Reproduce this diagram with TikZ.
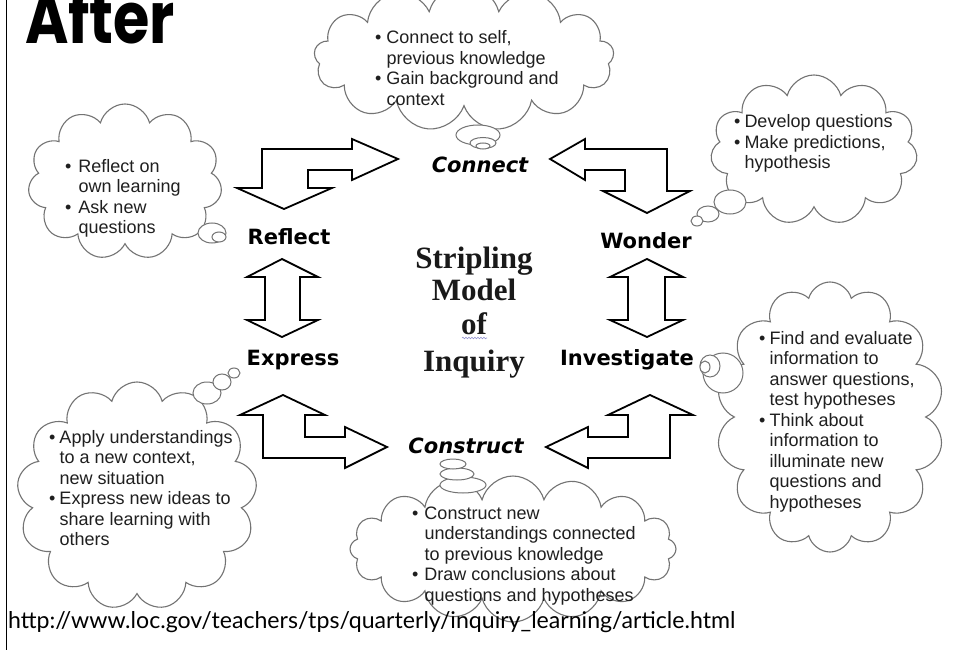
\documentclass[tikz,border=0pt]{standalone}
\usepackage{fontspec}
\setmainfont{Liberation Sans}
\newfontfamily\labelfont{DejaVu Sans}
\newfontfamily\centerfont{Liberation Serif}
\newfontfamily\urlfont{Lato}
\newfontfamily\titlefont{Poppins}
\usetikzlibrary{shapes.symbols,shapes.geometric,decorations.pathmorphing}
\begin{document}
\begin{tikzpicture}[x=1pt,y=-1pt,
  cloudbox/.style={cloud, cloud puffs=#1, cloud ignores aspect, draw=black!55, line width=1.1pt, fill=white, inner sep=0pt},
  bubble/.style={ellipse, draw=black!55, line width=1pt, fill=white, inner sep=0pt},
  blockarrow/.style={draw=black, line width=1.8pt, fill=white, line join=miter},
  steplabel/.style={font=\labelfont\bfseries\fontsize{21}{24}\selectfont, inner sep=0pt},
  steplabelit/.style={font=\labelfont\bfseries\itshape\fontsize{21}{24}\selectfont, inner sep=0pt},
  cloudtext/.style={anchor=base west, inner sep=0pt, font=\fontsize{18}{20.5}\selectfont, text=black!88},
  centertext/.style={anchor=base, inner sep=0pt, font=\centerfont\bfseries\fontsize{31}{34}\selectfont, text=black!90}
]
\useasboundingbox (0,0) rectangle (959,650);
\clip (0,0) rectangle (959,650);
\fill[white] (0,0) rectangle (959,650);

% left rule and title
\draw[line width=1.6pt] (6.5,0) -- (6.5,650);
\node[anchor=base west, inner sep=0pt] (title) at (25,44) {\resizebox{150pt}{56pt}{\titlefont\bfseries After}};

% clouds
\node[cloudbox=13, minimum width=300pt, minimum height=146pt] (cconnect) at (464,58) {};
\node[cloudbox=11, minimum width=207pt, minimum height=150pt] (cwonder) at (814,150) {};
\node[cloudbox=11, minimum width=194pt, minimum height=156pt] (creflect) at (125,182) {};
\node[cloudbox=13, minimum width=240pt, minimum height=228pt] (cexpress) at (137,496) {};
\node[cloudbox=14, minimum width=228pt, minimum height=270pt] (cinvest) at (830,417) {};
\node[cloudbox=16, minimum width=326pt, minimum height=146pt] (cconstruct) at (513,549) {};

% thought bubbles
\node[bubble, minimum width=44pt, minimum height=20pt] (bc1) at (478,135) {};
\node[bubble, minimum width=26pt, minimum height=11pt] (bc2) at (483,143) {};
\node[bubble, minimum width=14pt, minimum height=6pt] (bc3) at (483,146) {};

\node[bubble, minimum width=32pt, minimum height=24pt] (bw1) at (730,202) {};
\node[bubble, minimum width=22pt, minimum height=16pt] (bw2) at (708,214) {};
\node[bubble, minimum width=12pt, minimum height=10pt] (bw3) at (697,221) {};

\node[bubble, minimum width=28pt, minimum height=20pt] (br1) at (212,233) {};
\node[bubble, minimum width=14pt, minimum height=10pt] (br2) at (219,237) {};

\node[bubble, minimum width=28pt, minimum height=22pt] (be1) at (207,393) {};
\node[bubble, minimum width=18pt, minimum height=16pt] (be2) at (222,382) {};
\node[bubble, minimum width=12pt, minimum height=10pt] (be3) at (234,373) {};

\node[bubble, minimum width=40pt, minimum height=40pt] (bi1) at (723,373) {};
\node[bubble, minimum width=20pt, minimum height=22pt] (bi2) at (710,366) {};
\node[bubble, minimum width=10pt, minimum height=12pt] (bi3) at (705,367) {};

\node[bubble, minimum width=46pt, minimum height=16pt] (bk3) at (463,485) {};
\node[bubble, minimum width=34pt, minimum height=12pt] (bk2) at (457,474) {};
\node[bubble, minimum width=26pt, minimum height=10pt] (bk1) at (453,464) {};

% cloud texts
\node[cloudtext] (tconnect) at (375,44) {\begin{tabular}[t]{@{}l@{\hspace{5pt}}l@{}}\textbullet & Connect to self,\\ & previous knowledge\\ \textbullet & Gain background and\\ & context\end{tabular}};
\node[cloudtext] (twonder) at (734,128) {\begin{tabular}[t]{@{}l@{\hspace{4pt}}l@{}}\textbullet & Develop questions\\ \textbullet & Make predictions,\\ & hypothesis\end{tabular}};
\node[cloudtext] (treflect) at (65,172) {\begin{tabular}[t]{@{}l@{\hspace{7pt}}l@{}}\textbullet & Reflect on\\ & own learning\\ \textbullet & Ask new\\ & questions\end{tabular}};
\node[cloudtext] (texpress) at (49,443) {\begin{tabular}[t]{@{}l@{\hspace{4pt}}l@{}}\textbullet & Apply understandings\\ & to a new context,\\ & new situation\\ \textbullet & Express new ideas to\\ & share learning with\\ & others\end{tabular}};
\node[cloudtext] (tinvest) at (759,344) {\begin{tabular}[t]{@{}l@{\hspace{4pt}}l@{}}\textbullet & Find and evaluate\\ & information to\\ & answer questions,\\ & test hypotheses\\ \textbullet & Think about\\ & information to\\ & illuminate new\\ & questions and\\ & hypotheses\end{tabular}};
\node[cloudtext] (tconstruct) at (412,519) {\begin{tabular}[t]{@{}l@{\hspace{6pt}}l@{}}\textbullet & Construct new\\ & understandings connected\\ & to previous knowledge\\ \textbullet & Draw conclusions about\\ & questions and hypotheses\end{tabular}};

% block arrows
\draw[blockarrow] (262,149) -- (352,149) -- (352,139) -- (398,159) -- (352,180) -- (352,170) -- (308,170) -- (308,188) -- (332,188) -- (284,209) -- (237,188) -- (262,188) -- cycle;
\draw[blockarrow] (550,159) -- (585,139) -- (585,149) -- (667,149) -- (667,191) -- (690,191) -- (647,213) -- (603,191) -- (625,191) -- (625,170) -- (585,170) -- (585,180) -- cycle;
\draw[blockarrow] (263,415) -- (240,415) -- (283,395) -- (325,415) -- (305,415) -- (305,437) -- (345,437) -- (345,427) -- (387,447) -- (345,468) -- (345,458) -- (263,458) -- cycle;
\draw[blockarrow] (670,415) -- (693,415) -- (650,395) -- (608,415) -- (628,415) -- (628,437) -- (588,437) -- (588,427) -- (546,447) -- (588,468) -- (588,458) -- (670,458) -- cycle;
\draw[blockarrow] (282,259) -- (318,277) -- (300,277) -- (300,320) -- (318,320) -- (282,337) -- (247,320) -- (265,320) -- (265,277) -- (247,277) -- cycle;
\draw[blockarrow] (647,259) -- (683,277) -- (665,277) -- (665,320) -- (683,320) -- (647,337) -- (610,320) -- (628,320) -- (628,277) -- (610,277) -- cycle;

% stage labels
\node[steplabelit] (connect) at (480,165) {Connect};
\node[steplabel] (wonder) at (646,241) {Wonder};
\node[steplabel] (reflect) at (289,237) {Reflect};
\node[steplabel] (express) at (293,360) {Express};
\node[steplabel] (investigate) at (627,360) {Investigate};
\node[steplabelit] (construct) at (466,446) {Construct};

% centre title
\node[centertext] (c1) at (474,268) {Stripling};
\node[centertext] (c2) at (474,300) {Model};
\node[centertext] (c3) at (474,334) {of};
\node[centertext] (c4) at (474,371) {Inquiry};
\draw[blue!40!gray!60, line width=0.6pt, decorate, decoration={snake, amplitude=0.8pt, segment length=3pt}] (462,338) -- (487,338);

% source URL
\node[anchor=west, inner sep=0pt] (url) at (8,622) {\resizebox{727pt}{!}{\urlfont http://www.loc.gov/teachers/tps/quarterly/inquiry\_learning/article.html}};
\end{tikzpicture}
\end{document}
